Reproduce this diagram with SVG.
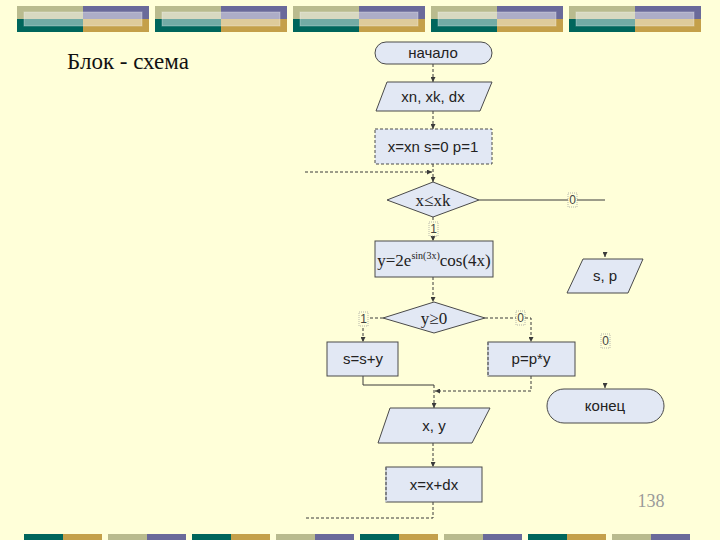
<svg xmlns="http://www.w3.org/2000/svg" width="720" height="540" viewBox="0 0 720 540">
<defs>
<style>
.bg{fill:#ffffd9}
.node{fill:#e2e8f4;stroke:#4a4a4a;stroke-width:1}
.dnode{fill:#e2e8f4;stroke:#4a4a4a;stroke-width:1;stroke-dasharray:3,2}
.t{font-family:"Liberation Sans",Arial,sans-serif;font-size:15px;fill:#222;text-anchor:middle}
.ts{font-family:"Liberation Serif","Times New Roman",serif;font-size:17px;fill:#222;text-anchor:middle}
.c{fill:none;stroke:#3a3a3a;stroke-width:1}
.cd{fill:none;stroke:#3a3a3a;stroke-width:1;stroke-dasharray:3,2}
.lbl{font-family:"Liberation Sans",Arial,sans-serif;font-size:12px;fill:#444;text-anchor:middle}
.lb{fill:#ffffd9;stroke:#999;stroke-width:0.7;stroke-dasharray:1,1}
.kh{fill:#b9bb8e}.pu{fill:#6a6a9a}.te{fill:#00665c}.go{fill:#c4a04a}
.ov{fill:#ffffff;fill-opacity:0.45;stroke:#ffffff;stroke-opacity:0.3}
</style>
<marker id="ar" viewBox="0 0 6 6" refX="6" refY="3" markerWidth="5" markerHeight="5" orient="auto">
<path d="M0,0 L6,3 L0,6 z" fill="#3a3a3a"/>
</marker>
<g id="blk">
<rect class="kh" x="0" y="0" width="66" height="13"/>
<rect class="pu" x="66" y="0" width="66" height="13"/>
<rect class="te" x="0" y="13" width="66" height="13"/>
<rect class="go" x="66" y="13" width="66" height="13"/>
<rect class="ov" x="7" y="6" width="118" height="14"/>
</g>
<g id="bseg1"><rect class="te" x="0" y="0" width="39" height="6"/><rect class="go" x="39" y="0" width="39" height="6"/></g>
<g id="bseg2"><rect class="kh" x="0" y="0" width="39" height="6"/><rect class="pu" x="39" y="0" width="39" height="6"/></g>
</defs>
<rect class="bg" x="0" y="0" width="720" height="540"/>
<g id="topbar">
<use href="#blk" x="17" y="6"/>
<use href="#blk" x="155" y="6"/>
<use href="#blk" x="293" y="6"/>
<use href="#blk" x="431" y="6"/>
<use href="#blk" x="569" y="6"/>
</g>
<g id="bottombar">
<use href="#bseg1" x="24" y="534"/>
<use href="#bseg2" x="108" y="534"/>
<use href="#bseg1" x="192" y="534"/>
<use href="#bseg2" x="276" y="534"/>
<use href="#bseg1" x="360" y="534"/>
<use href="#bseg2" x="444" y="534"/>
<use href="#bseg1" x="528" y="534"/>
<use href="#bseg2" x="612" y="534"/>
</g>
<text x="67" y="69" font-family="'Liberation Serif','Times New Roman',serif" font-size="23" fill="#111">Блок - схема</text>
<text x="651" y="507" font-family="'Liberation Serif','Times New Roman',serif" font-size="18" fill="#9a9a9a" text-anchor="middle">138</text>

<g id="connectors">
<line class="cd" x1="433" y1="64" x2="433" y2="82" marker-end="url(#ar)"/>
<line class="cd" x1="433" y1="111" x2="433" y2="129" marker-end="url(#ar)"/>
<line class="cd" x1="433" y1="164" x2="433" y2="182" marker-end="url(#ar)"/>
<line class="cd" x1="305" y1="172" x2="432" y2="172" marker-end="url(#ar)"/>
<line class="c" x1="479" y1="200" x2="605" y2="200"/>
<line class="cd" x1="433" y1="217" x2="433" y2="241" marker-end="url(#ar)"/>
<line class="cd" x1="433" y1="277" x2="433" y2="302" marker-end="url(#ar)"/>
<polyline class="cd" points="383,318 363,318 363,342" marker-end="url(#ar)"/>
<polyline class="cd" points="485,318 531,318 531,342" marker-end="url(#ar)"/>
<polyline class="c" points="363,376 363,385 434,385"/>
<polyline class="cd" points="531,376 531,391 435,391" marker-end="url(#ar)"/>
<line class="cd" x1="434" y1="385" x2="434" y2="408" marker-end="url(#ar)"/>
<line class="cd" x1="433" y1="443" x2="433" y2="467" marker-end="url(#ar)"/>
<polyline class="cd" points="433,502 433,518 304,518"/>
<line class="c" x1="605" y1="252" x2="605" y2="257" marker-end="url(#ar)"/>
<line class="c" x1="605" y1="383" x2="605" y2="388" marker-end="url(#ar)"/>
<rect class="lb" x="568" y="193" width="9" height="14"/>
<text class="lbl" x="572.5" y="204">0</text>
<rect class="lb" x="429" y="222" width="9" height="14"/>
<text class="lbl" x="433.5" y="233">1</text>
<rect class="lb" x="359" y="312" width="9" height="14"/>
<text class="lbl" x="363.5" y="323">1</text>
<rect class="lb" x="516" y="311" width="9" height="14"/>
<text class="lbl" x="520.5" y="322">0</text>
<rect class="lb" x="601" y="334" width="9" height="14"/>
<text class="lbl" x="605.5" y="345">0</text>
</g>

<g id="n-start">
<rect class="node" x="375" y="42" width="117" height="22" rx="11"/>
<text class="t" x="433" y="58">начало</text>
</g>
<g id="n-input">
<polygon class="node" points="387,82 492,82 480,111 376,111"/>
<text class="t" x="433" y="102">xn, xk, dx</text>
</g>
<g id="n-init">
<rect class="dnode" x="375" y="129" width="117" height="35"/>
<text class="t" x="433" y="152">x=xn s=0 p=1</text>
</g>
<g id="n-cond1">
<polygon class="node" points="433,182 479,200 433,217 387,200"/>
<text class="ts" x="433" y="206">x≤xk</text>
</g>
<g id="n-calc">
<rect class="node" x="375" y="241" width="118" height="36"/>
<text class="ts" x="434" y="266" font-size="15.5">y=2e<tspan font-size="10" dy="-7">sin(3x)</tspan><tspan dy="7">cos(4x)</tspan></text>
</g>
<g id="n-cond2">
<polygon class="node" points="434,302 485,318 434,333 383,318"/>
<text class="ts" x="434" y="324">y≥0</text>
</g>
<g id="n-sum">
<rect class="node" x="327" y="342" width="71" height="34"/>
<text class="t" x="363" y="364">s=s+y</text>
</g>
<g id="n-prod">
<rect class="node" x="488" y="342" width="87" height="34"/>
<line x1="488" y1="342" x2="488" y2="376" stroke="#e2e8f4" stroke-width="1.2"/>
<line class="cd" x1="488" y1="342" x2="488" y2="376"/>
<text class="t" x="531" y="364">p=p*y</text>
</g>
<g id="n-out">
<polygon class="node" points="390,408 490,408 472,443 378,443"/>
<text class="t" x="434" y="431">x, y</text>
</g>
<g id="n-step">
<rect class="node" x="386" y="467" width="96" height="35"/>
<line x1="386" y1="467" x2="386" y2="502" stroke="#e2e8f4" stroke-width="1.2"/>
<line class="cd" x1="386" y1="467" x2="386" y2="502"/>
<text class="t" x="434" y="490">x=x+dx</text>
</g>
<g id="n-result">
<polygon class="node" points="583,259 643,259 628,293 567,293"/>
<text class="t" x="605" y="281">s, p</text>
</g>
<g id="n-end">
<rect class="node" x="547" y="389" width="117" height="34" rx="17"/>
<text class="t" x="605" y="411">конец</text>
</g>
</svg>
